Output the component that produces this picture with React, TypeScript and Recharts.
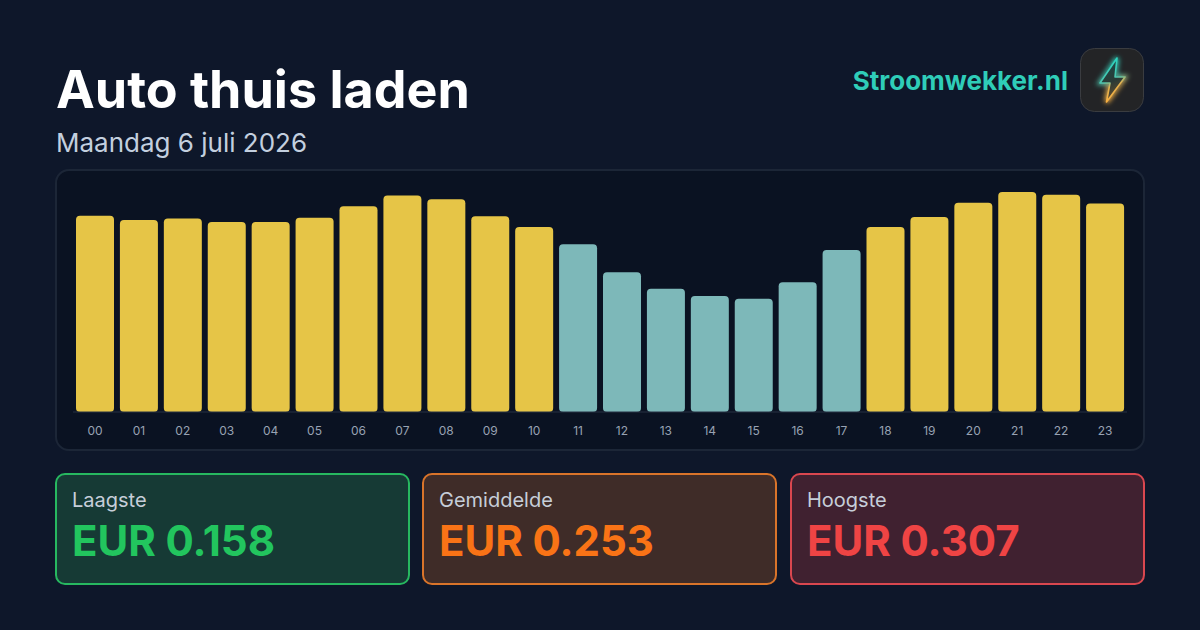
import { Bar, BarChart, Cell, XAxis, YAxis } from "recharts";

const hours = ["00", "01", "02", "03", "04", "05", "06", "07", "08", "09", "10", "11", "12", "13", "14", "15", "16", "17", "18", "19", "20", "21", "22", "23"];
const prices = [0.274, 0.268, 0.27, 0.265, 0.265, 0.271, 0.287, 0.302, 0.297, 0.273, 0.258, 0.234, 0.195, 0.172, 0.162, 0.158, 0.181, 0.226, 0.258, 0.272, 0.292, 0.307, 0.303, 0.291];
const cheapHours = ["11", "12", "13", "14", "15", "16", "17"];

const cardLabels = ["Laagste", "Gemiddelde", "Hoogste"];
const cardValues = ["EUR 0.158", "EUR 0.253", "EUR 0.307"];
const cardColors = ["#22c55e", "#f97316", "#ef4444"];
const cardBorders = ["#27b860", "#d9742a", "#d9474f"];
const cardFills = ["#163a35", "#3f2c28", "#402130"];
const cardLefts = [55, 422, 790];

const chartData = hours.map((hour, i) => ({ hour, price: prices[i] }));

const font = "Inter, sans-serif";
const boltPath = "M37 10 L20 35 L30 35 L26.5 54 L45 29 L35 29 Z";

const Logo = () => (
  <svg width={64} height={64} viewBox="0 0 64 64" style={{ position: "absolute", left: 1080, top: 48 }}>
    <defs>
      <linearGradient id="bolt" x1="0.4" y1="0.1" x2="0.6" y2="0.95">
        <stop offset="0" stopColor="#2dd4bf" />
        <stop offset="0.45" stopColor="#4fc4ae" />
        <stop offset="0.62" stopColor="#e0b050" />
        <stop offset="1" stopColor="#fbb040" />
      </linearGradient>
      <linearGradient id="boltFill" x1="0.4" y1="0.1" x2="0.6" y2="0.95">
        <stop offset="0" stopColor="#1d4a48" />
        <stop offset="0.5" stopColor="#2a3a36" />
        <stop offset="1" stopColor="#6a4e28" />
      </linearGradient>
      <filter id="glow" x="-60%" y="-60%" width="220%" height="220%">
        <feGaussianBlur stdDeviation="2.6" />
      </filter>
    </defs>
    <rect x={0.5} y={0.5} width={63} height={63} rx={14} fill="#232426" stroke="#3a3c40" />
    <path d={boltPath} fill="none" stroke="url(#bolt)" strokeWidth={4} filter="url(#glow)" />
    <path d={boltPath} fill="url(#boltFill)" stroke="url(#bolt)" strokeWidth={1.6} strokeLinejoin="round" />
  </svg>
);

export default function App() {
  return (
    <div style={{ position: "absolute", left: 0, top: 0, width: 1200, height: 630, background: "#0e172a", fontFamily: font, overflow: "hidden" }}>
      <div style={{ position: "absolute", left: 56, top: 58, fontSize: 52, lineHeight: "63px", fontWeight: 700, color: "#ffffff", whiteSpace: "nowrap" }}>Auto thuis laden</div>
      <div style={{ position: "absolute", left: 56, top: 127, fontSize: 26, lineHeight: "32px", color: "#c3cfdf", whiteSpace: "nowrap" }}>Maandag 6 juli 2026</div>
      <div style={{ position: "absolute", right: 132, top: 65, fontSize: 26, lineHeight: "32px", fontWeight: 700, color: "#2fcdb8", whiteSpace: "nowrap" }}>Stroomwekker.nl</div>
      <Logo />

      <div style={{ position: "absolute", left: 55, top: 169, width: 1090, height: 282, boxSizing: "border-box", background: "#0a1222", border: "2px solid #1c2637", borderRadius: 14 }} />
      <div style={{ position: "absolute", left: 56, top: 170 }}>
        <BarChart width={1088} height={280} data={chartData} margin={{ top: 22, right: 17, bottom: 8, left: 17 }}>
          <YAxis hide domain={[0, 0.307]} />
          <XAxis
            dataKey="hour"
            height={30}
            interval={0}
            tickLine={false}
            axisLine={{ stroke: "#263042", strokeWidth: 1 }}
            tick={{ fill: "#98a2b3", fontSize: 12, fontFamily: font }}
            tickMargin={8}
          />
          <Bar dataKey="price" barSize={38} radius={4} isAnimationActive={false}>
            {chartData.map((d) => (
              <Cell key={d.hour} fill={cheapHours.includes(d.hour) ? "#7db8b9" : "#e6c547"} />
            ))}
          </Bar>
        </BarChart>
      </div>

      {cardLabels.map((label, i) => (
        <div key={label} style={{ position: "absolute", left: cardLefts[i], top: 473, width: 355, height: 112, boxSizing: "border-box", background: cardFills[i], border: `2px solid ${cardBorders[i]}`, borderRadius: 10 }}>
          <div style={{ position: "absolute", left: 15, top: 13, fontSize: 20, lineHeight: "24px", color: "#c6ced9" }}>{label}</div>
          <div style={{ position: "absolute", left: 15, top: 41, fontSize: 42, lineHeight: "50px", fontWeight: 700, letterSpacing: -0.05, color: cardColors[i], whiteSpace: "nowrap" }}>{cardValues[i]}</div>
        </div>
      ))}
    </div>
  );
}
